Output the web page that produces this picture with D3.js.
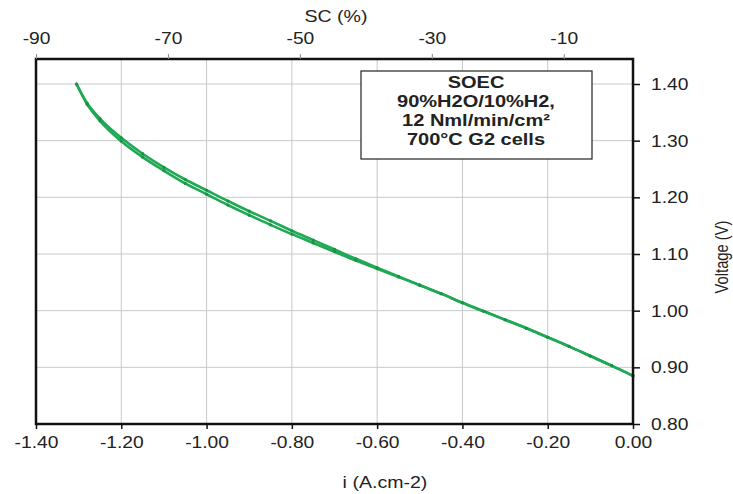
<!DOCTYPE html>
<html>
<head>
  <meta charset="utf-8">
  <title>SOEC i-V curve</title>
  <script src="https://d3js.org/d3.v7.min.js"></script>
  <style>
    body {
      margin: 0;
      background-color: #fff;
      font-family: "Liberation Sans", Arial, sans-serif;
    }
    svg text {
      fill: #222;
    }
  </style>
</head>
<body>
  <div id="chart"></div>

  <script>
    // current density (A.cm-2), two sweeps
    const currentUp = [-1.305, -1.28, -1.25, -1.20, -1.15, -1.10, -1.05, -1.00, -0.95, -0.90, -0.85, -0.80,
      -0.75, -0.70, -0.65, -0.60, -0.55, -0.50, -0.45, -0.40, -0.35, -0.30, -0.25, -0.20, -0.15, -0.10, -0.05, 0.00];
    const voltageUp = [1.400, 1.366, 1.339, 1.305, 1.277, 1.253, 1.2315, 1.2125, 1.1935, 1.1755, 1.1585, 1.141,
      1.1245, 1.108, 1.0915, 1.076, 1.0605, 1.045, 1.030, 1.014, 0.999, 0.984, 0.969, 0.953, 0.937, 0.920, 0.903, 0.885];

    const currentDown = [-1.305, -1.28, -1.25, -1.20, -1.15, -1.10, -1.05, -1.00, -0.95, -0.90, -0.85, -0.80,
      -0.75, -0.70, -0.65, -0.60, -0.55, -0.50, -0.45, -0.40, -0.35, -0.30, -0.25, -0.20, -0.15, -0.10, -0.05, 0.00];
    const voltageDown = [1.400, 1.364, 1.335, 1.299, 1.271, 1.247, 1.2245, 1.2055, 1.1865, 1.1685, 1.1515, 1.135,
      1.1195, 1.104, 1.0885, 1.074, 1.0595, 1.045, 1.030, 1.014, 0.999, 0.984, 0.969, 0.953, 0.937, 0.920, 0.903, 0.885];

    const xTicks = [-1.40, -1.20, -1.00, -0.80, -0.60, -0.40, -0.20, 0.00];
    const yTicks = [0.80, 0.90, 1.00, 1.10, 1.20, 1.30, 1.40];
    const scTicks = [-90, -70, -50, -30, -10];
    const boxLines = ["SOEC", "90%H2O/10%H2,", "12 Nml/min/cm²", "700°C G2 cells"];

    const width = 733;
    const height = 494;
    const margin = { top: 59, right: 100, bottom: 70, left: 36 };
    const green = "#1fa955";

    const svg = d3.select("#chart")
      .append("svg")
      .attr("width", width)
      .attr("height", height);

    const x = d3.scaleLinear()
      .domain([-1.4, 0])
      .range([margin.left, width - margin.right]);

    const y = d3.scaleLinear()
      .domain([0.8, 1.4])
      .range([height - margin.bottom, 84]);

    const xTop = d3.scaleLinear()
      .domain([-90, 0.5])
      .range([margin.left, width - margin.right]);

    // stretch text a bit wider, the original picture is wider than tall
    function stretch(sel, k) {
      sel.each(function() {
        const len = this.getComputedTextLength();
        d3.select(this).attr("textLength", len * k).attr("lengthAdjust", "spacingAndGlyphs");
      });
    }

    // grid
    svg.append("g")
      .selectAll("line")
      .data(xTicks)
      .join("line")
      .attr("x1", d => x(d)).attr("x2", d => x(d))
      .attr("y1", margin.top).attr("y2", height - margin.bottom)
      .attr("stroke", "#c8c8c8");

    svg.append("g")
      .selectAll("line")
      .data(yTicks)
      .join("line")
      .attr("x1", margin.left).attr("x2", width - margin.right)
      .attr("y1", d => y(d)).attr("y2", d => y(d))
      .attr("stroke", "#c8c8c8");

    // curves
    const line = d3.line()
      .curve(d3.curveMonotoneX)
      .x(d => x(d[0]))
      .y(d => y(d[1]));

    const sweeps = [
      d3.zip(currentUp, voltageUp),
      d3.zip(currentDown, voltageDown)
    ];

    svg.append("g")
      .selectAll("path")
      .data(sweeps)
      .join("path")
      .attr("d", line)
      .attr("fill", "none")
      .attr("stroke", green)
      .attr("stroke-width", 2.6);

    svg.append("g")
      .selectAll("circle")
      .data(sweeps.flat())
      .join("circle")
      .attr("cx", d => x(d[0]))
      .attr("cy", d => y(d[1]))
      .attr("r", 1.6)
      .attr("fill", "#189447");

    // frame
    svg.append("rect")
      .attr("x", margin.left)
      .attr("y", margin.top)
      .attr("width", width - margin.left - margin.right)
      .attr("height", height - margin.top - margin.bottom)
      .attr("fill", "none")
      .attr("stroke", "#111")
      .attr("stroke-width", 2.5);

    // bottom axis
    const bottomAxis = svg.append("g")
      .attr("transform", `translate(0,${height - margin.bottom})`)
      .call(d3.axisBottom(x).tickValues(xTicks).tickFormat(d3.format(".2f")).tickSize(5).tickPadding(7));
    bottomAxis.select(".domain").remove();
    bottomAxis.selectAll("line").attr("stroke", "#111").attr("stroke-width", 1.5);
    bottomAxis.selectAll("text")
      .attr("font-size", 17).attr("font-family", "Liberation Sans, Arial, sans-serif")
      .attr("fill", "#222")
      .text(d => d3.format(".2f")(d).replace("−", "-"))
      .call(stretch, 1.13);

    // right axis
    const rightAxis = svg.append("g")
      .attr("transform", `translate(${width - margin.right},0)`)
      .call(d3.axisRight(y).tickValues(yTicks).tickFormat(d3.format(".2f")).tickSize(7).tickPadding(11));
    rightAxis.select(".domain").remove();
    rightAxis.selectAll("line").attr("stroke", "#111").attr("stroke-width", 1.5);
    rightAxis.selectAll("text")
      .attr("font-size", 17).attr("font-family", "Liberation Sans, Arial, sans-serif")
      .attr("fill", "#222")
      .call(stretch, 1.13);

    // top axis (SC %)
    const topAxis = svg.append("g")
      .attr("transform", `translate(0,${margin.top})`)
      .call(d3.axisTop(xTop).tickValues(scTicks).tickFormat(d => String(d)).tickSize(5).tickPadding(10));
    topAxis.select(".domain").remove();
    topAxis.selectAll("line").attr("stroke", "#888").attr("stroke-width", 1);
    topAxis.selectAll("text")
      .attr("font-size", 17).attr("font-family", "Liberation Sans, Arial, sans-serif")
      .attr("fill", "#222")
      .call(stretch, 1.13);

    // axis titles
    svg.append("text")
      .attr("x", 336).attr("y", 22)
      .attr("text-anchor", "middle")
      .attr("font-size", 17)
      .text("SC (%)")
      .call(stretch, 1.15);

    svg.append("text")
      .attr("x", 385).attr("y", 488)
      .attr("text-anchor", "middle")
      .attr("font-size", 17)
      .text("i (A.cm-2)")
      .call(stretch, 1.15);

    svg.append("text")
      .attr("transform", "translate(728,257) rotate(-90) scale(0.95,1.2)")
      .attr("text-anchor", "middle")
      .attr("font-size", 15.5)
      .text("Voltage (V)");

    // annotation box
    svg.append("rect")
      .attr("x", 361).attr("y", 71)
      .attr("width", 231).attr("height", 88)
      .attr("fill", "#fff")
      .attr("stroke", "#222")
      .attr("stroke-width", 1.2);

    svg.append("g")
      .selectAll("text")
      .data(boxLines)
      .join("text")
      .attr("x", 476)
      .attr("y", (d, i) => 88 + i * 19)
      .attr("text-anchor", "middle")
      .attr("font-size", 16)
      .attr("font-weight", "bold")
      .text(d => d)
      .call(stretch, 1.25);
  </script>
</body>
</html>
